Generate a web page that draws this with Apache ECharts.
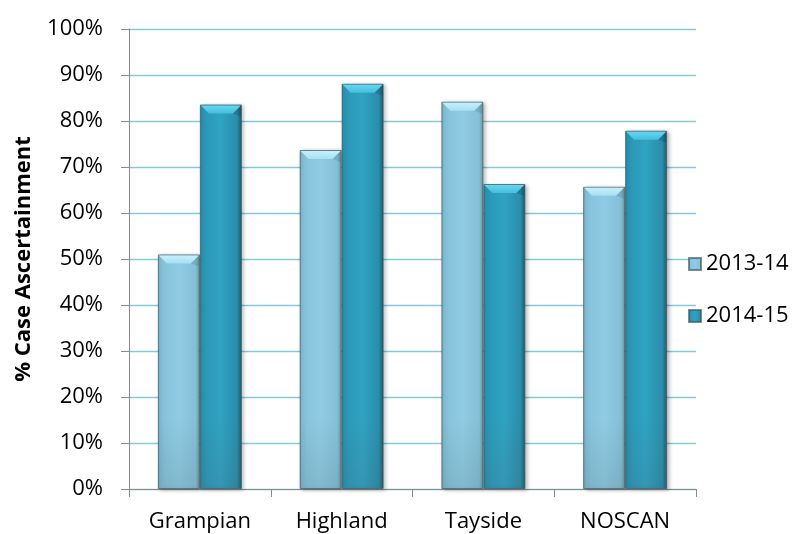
<!DOCTYPE html>
<html>
<head>
<meta charset="utf-8">
<title>% Case Ascertainment</title>
<script src="https://cdn.jsdelivr.net/npm/echarts@6/dist/echarts.min.js"></script>
<style>
  html, body { margin: 0; padding: 0; background: #fff; }
  #chart { width: 792px; height: 534px; }
</style>
</head>
<body>
<div id="chart"></div>
<script>
// Health board regions along the x axis
const categories = ['Grampian', 'Highland', 'Tayside', 'NOSCAN'];
const seriesNames = ['2013-14', '2014-15'];
// % case ascertainment per region
const values2013 = [51.0, 73.7, 84.2, 65.7];
const values2014 = [83.6, 88.1, 66.3, 77.9];
// value axis ticks
const yMin = 0, yMax = 100, yStep = 10;

const FONT = '"Open Sans", "Liberation Sans", sans-serif';
const BAR_W = 42;

const palettes = [
  {
    body: [[0, '#70a9bf'], [0.07, '#85c2d9'], [0.5, '#8fcbe3'], [0.9, '#84bfd6'], [1, '#66999e']],
    topA: '#c6f0fb', topB: '#a8dff1', side: 'rgba(40,90,110,0.18)'
  },
  {
    body: [[0, '#25839e'], [0.07, '#2b97b6'], [0.5, '#30a2c2'], [0.88, '#2a8eab'], [1, '#1a5c70']],
    topA: '#66d6f0', topB: '#44bedd', side: 'rgba(0,40,60,0.2)'
  }
];

function bodyGradient(p) {
  return new echarts.graphic.LinearGradient(0, 0, 1, 0,
    p.body.map(s => ({ offset: s[0], color: s[1] })));
}

// Bevelled top and soft base shading drawn over each bar
function bevelRenderer(slot, p) {
  return function (params, api) {
    const i = api.value(0);
    const v = api.value(1);
    const top = api.coord([i, v]);
    const bot = api.coord([i, 0]);
    const x0 = top[0] - BAR_W + slot * BAR_W;
    const x1 = x0 + BAR_W;
    const yt = top[1];
    const yb = bot[1];
    const d = 9;
    return {
      type: 'group',
      children: [
        {
          type: 'polygon',
          shape: { points: [[x0 + 1, yt + 1], [x1 - 1, yt + 1], [x1 - d, yt + d], [x0 + d, yt + d]] },
          style: {
            fill: new echarts.graphic.LinearGradient(0, 0, 0, 1, [
              { offset: 0, color: p.topA }, { offset: 1, color: p.topB }
            ])
          }
        },
        {
          type: 'polygon',
          shape: { points: [[x1 - 1, yt + 1], [x1 - 1, yt + d + 3], [x1 - d, yt + d]] },
          style: { fill: p.side }
        },
        {
          type: 'rect',
          shape: { x: x0 + 0.5, y: yb - 70, width: BAR_W - 1, height: 70 },
          style: {
            fill: new echarts.graphic.LinearGradient(0, 0, 0, 1, [
              { offset: 0, color: 'rgba(70,90,100,0)' },
              { offset: 1, color: 'rgba(70,90,100,0.16)' }
            ])
          }
        }
      ]
    };
  };
}

const chart = echarts.init(document.getElementById('chart'), null, { renderer: 'canvas' });

const seriesData = [values2013, values2014];

const barSeries = seriesData.map((vals, k) => ({
  name: seriesNames[k],
  type: 'bar',
  data: vals,
  barWidth: BAR_W,
  barGap: '0%',
  itemStyle: {
    color: bodyGradient(palettes[k]),
    borderColor: 'rgba(60,80,90,0.65)',
    borderWidth: 1,
    shadowColor: 'rgba(0,0,0,0.28)',
    shadowBlur: 4,
    shadowOffsetX: 2,
    shadowOffsetY: 1
  },
  emphasis: { disabled: true },
  z: 2
}));

const bevelSeries = seriesData.map((vals, k) => ({
  name: 'bevel ' + seriesNames[k],
  type: 'custom',
  renderItem: bevelRenderer(k, palettes[k]),
  data: vals.map((v, i) => [i, v]),
  silent: true,
  z: 3
}));

chart.setOption({
  animation: false,
  textStyle: { fontFamily: FONT },
  grid: { left: 129, right: 96, top: 29, bottom: 45, containLabel: false },
  legend: {
    data: seriesNames,
    orient: 'vertical',
    left: 683,
    top: 248,
    itemWidth: 12,
    itemHeight: 12,
    itemGap: 30,
    icon: 'rect',
    textStyle: { fontFamily: FONT, fontSize: 22, color: '#000' }
  },
  xAxis: {
    type: 'category',
    data: categories,
    axisLine: { show: true, lineStyle: { color: '#8a8a8a', width: 1 } },
    axisTick: { show: true, length: 8, lineStyle: { color: '#8a8a8a' } },
    axisLabel: { fontFamily: FONT, fontSize: 22, color: '#000', margin: 22 },
    splitLine: { show: false }
  },
  yAxis: {
    type: 'value',
    min: yMin,
    max: yMax,
    interval: yStep,
    name: '% Case Ascertainment',
    nameLocation: 'middle',
    nameGap: 94,
    nameTextStyle: { fontFamily: FONT, fontSize: 22, fontWeight: 'bold', color: '#000' },
    axisLine: { show: true, lineStyle: { color: '#8a8a8a', width: 1 } },
    axisTick: { show: true, length: 8, lineStyle: { color: '#8a8a8a' } },
    axisLabel: { fontFamily: FONT, fontSize: 22, color: '#000', margin: 26, formatter: '{value}%' },
    splitLine: { show: true, lineStyle: { color: '#86c9dc', width: 1.3 } }
  },
  series: barSeries.concat(bevelSeries)
});
</script>
</body>
</html>
